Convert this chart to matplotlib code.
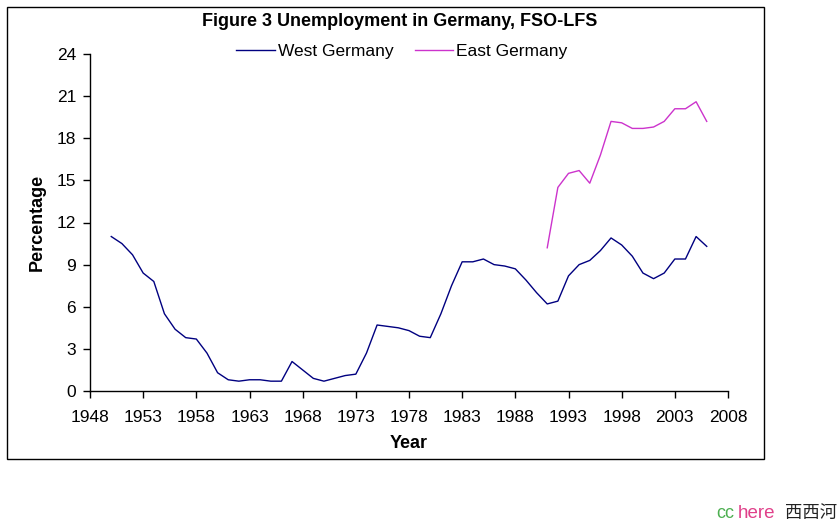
import matplotlib
matplotlib.use("Agg")
import matplotlib.pyplot as plt
from matplotlib.patches import Rectangle

plt.rcParams['font.family'] = ['Liberation Sans', 'DejaVu Sans']

west_years = list(range(1950, 2007))
west_values = [11.0, 10.5, 9.7, 8.4, 7.8, 5.5, 4.4, 3.8, 3.7, 2.7,
               1.3, 0.8, 0.7, 0.8, 0.8, 0.7, 0.7, 2.1, 1.5, 0.9,
               0.7, 0.9, 1.1, 1.2, 2.7, 4.7, 4.6, 4.5, 4.3, 3.9,
               3.8, 5.5, 7.5, 9.2, 9.2, 9.4, 9.0, 8.9, 8.7, 7.9,
               7.0, 6.2, 6.4, 8.2, 9.0, 9.3, 10.0, 10.9, 10.4, 9.6,
               8.4, 8.0, 8.4, 9.4, 9.4, 11.0, 10.3]
east_years = list(range(1991, 2007))
east_values = [10.2, 14.5, 15.5, 15.7, 14.8, 16.8, 19.2, 19.1, 18.7, 18.7,
               18.8, 19.2, 20.1, 20.1, 20.6, 19.2]

x_ticks = list(range(1948, 2009, 5))
y_ticks = list(range(0, 25, 3))

fig = plt.figure(figsize=(8.4, 5.25), dpi=100)
fig.patches.append(Rectangle((7/840, 1-459/525), (764-7)/840, (459-7)/525,
                             transform=fig.transFigure, fill=False,
                             edgecolor='black', linewidth=1.0))

ax = fig.add_axes([90/840, 1-391/525, (728-90)/840, (391-54)/525])
ax.plot(west_years, west_values, color='#000080', linewidth=1.0, label='West Germany')
ax.plot(east_years, east_values, color='#cc33cc', linewidth=1.0, label='East Germany')

ax.set_xlim(1948, 2008)
ax.set_ylim(0, 24)
ax.set_xticks(x_ticks)
ax.set_yticks(y_ticks)
ax.tick_params(direction='out', length=5, width=1, labelsize=12.5)
ax.tick_params(axis='x', pad=9)
ax.tick_params(axis='y', pad=5)
for s in ['top', 'right']:
    ax.spines[s].set_visible(False)
for s in ['left', 'bottom']:
    ax.spines[s].set_linewidth(1.0)

ax.set_xlabel('Year', fontsize=13, fontweight='bold', labelpad=7)
ax.set_ylabel('Percentage', fontsize=13, fontweight='bold', labelpad=8)

fig.text(400/840, 1-22/525, 'Figure 3 Unemployment in Germany, FSO-LFS',
         ha='center', va='center', fontsize=13, fontweight='bold')
leg = ax.legend(loc='center', bbox_to_anchor=(402/840, 1-51/525),
                bbox_transform=fig.transFigure, ncol=2, frameon=False,
                fontsize=12.5, handlelength=2.2, handletextpad=0.2,
                columnspacing=1.2)

fig.text(716/840, 1-513/525, 'cc', color='#4caf50', fontsize=13, va='center')
fig.text(738/840, 1-513/525, 'here', color='#e0408a', fontsize=13.5, va='center')
fig.text(785/840, 1-513/525, '西西河', color='#222222', fontsize=12.5, va='center',
         family=['Noto Sans CJK SC', 'DejaVu Sans'])

fig.savefig('out.png', dpi=100)
